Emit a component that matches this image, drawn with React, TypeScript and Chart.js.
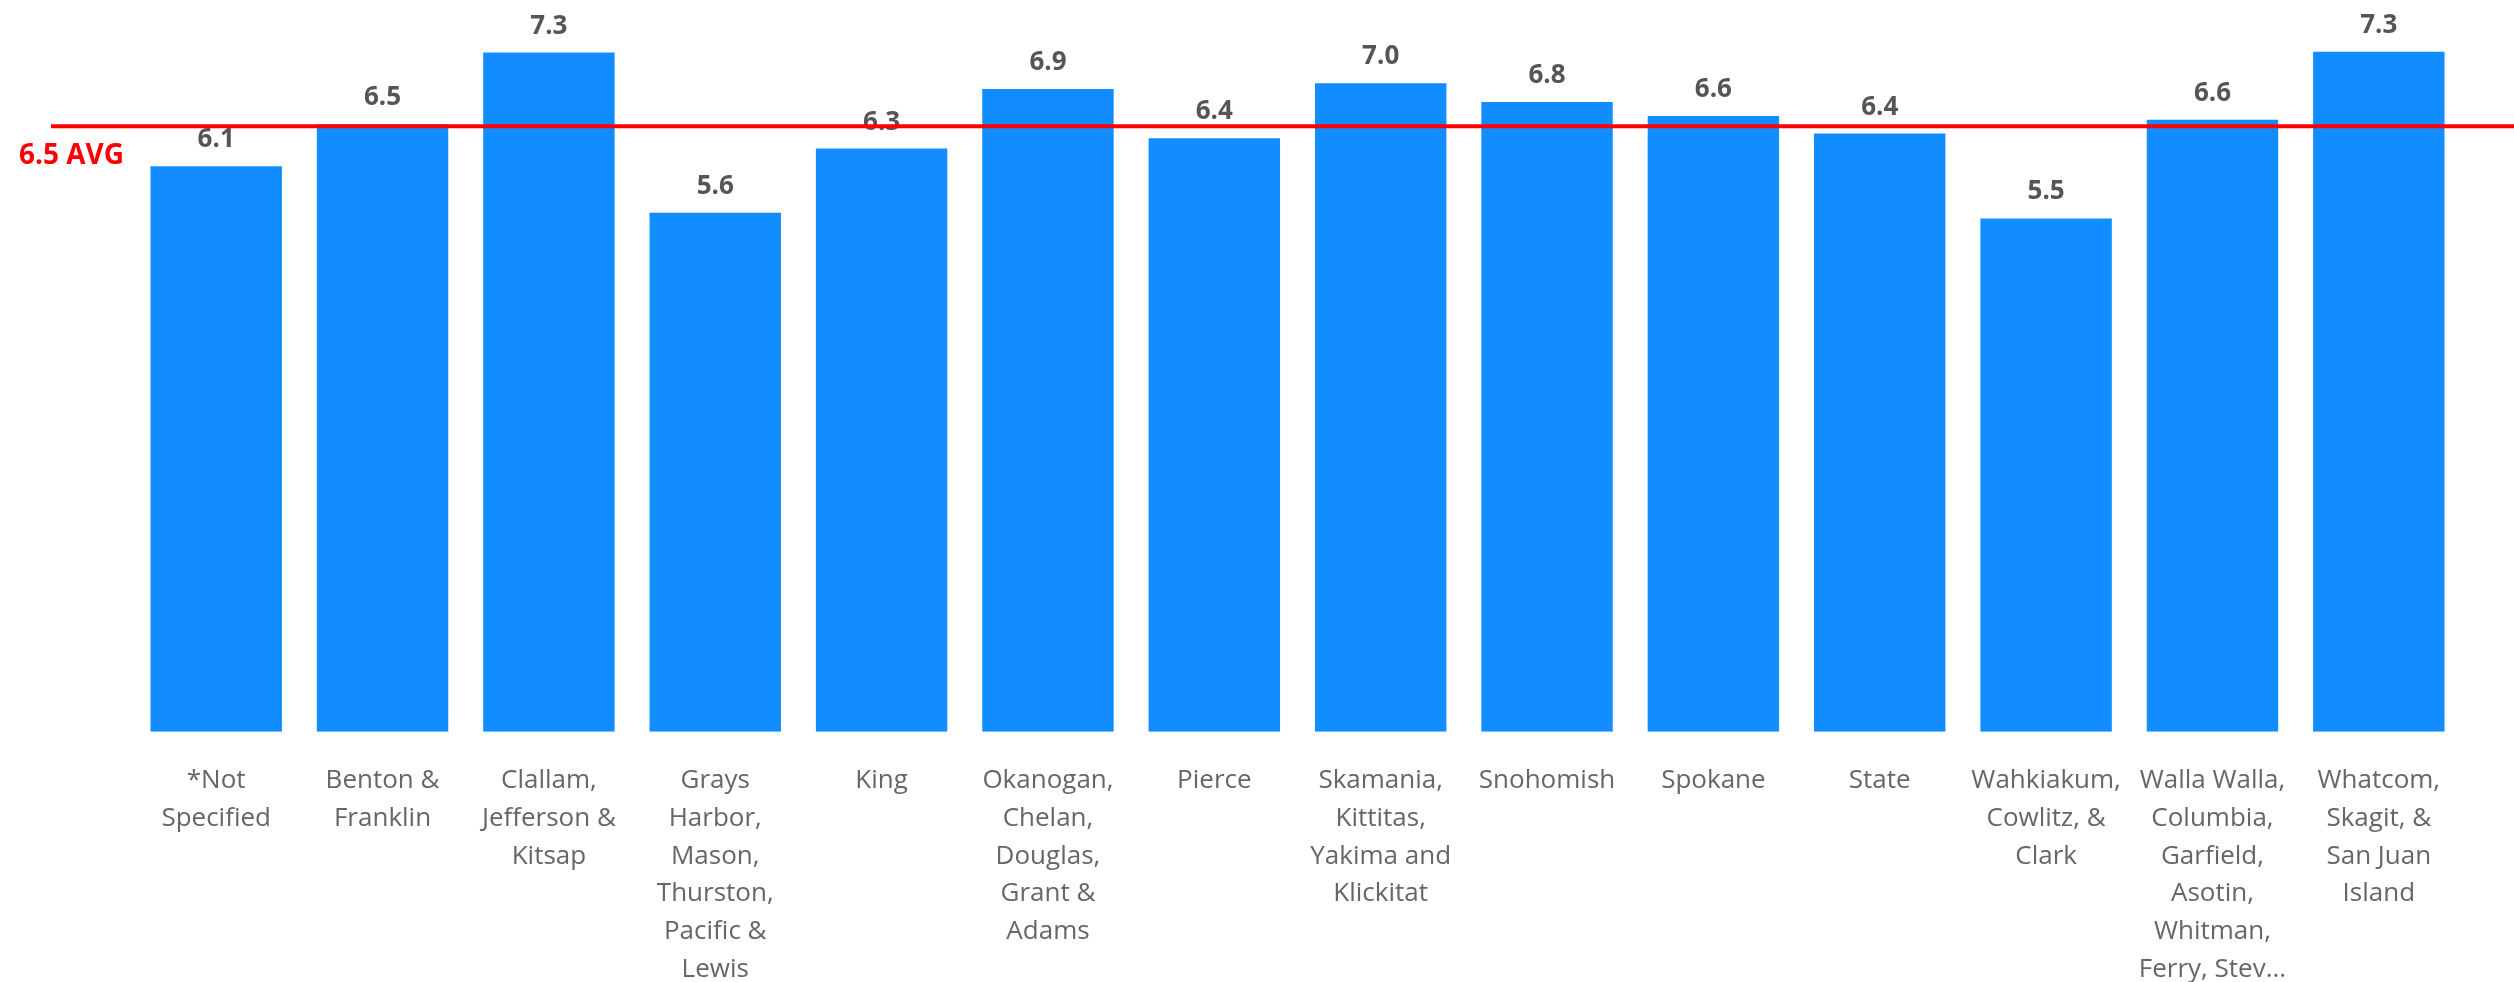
import React, { useEffect, useRef } from "react";
import { Chart, registerables } from "chart.js";

Chart.register(...registerables);

const categories: string[][] = [
  ["*Not", "Specified"],
  ["Benton &", "Franklin"],
  ["Clallam,", "Jefferson &", "Kitsap"],
  ["Grays", "Harbor,", "Mason,", "Thurston,", "Pacific &", "Lewis"],
  ["King"],
  ["Okanogan,", "Chelan,", "Douglas,", "Grant &", "Adams"],
  ["Pierce"],
  ["Skamania,", "Kittitas,", "Yakima and", "Klickitat"],
  ["Snohomish"],
  ["Spokane"],
  ["State"],
  ["Wahkiakum,", "Cowlitz, &", "Clark"],
  ["Walla Walla,", "Columbia,", "Garfield,", "Asotin,", "Whitman,", "Ferry, Stev..."],
  ["Whatcom,", "Skagit, &", "San Juan", "Island"],
];

const values: number[] = [6.07, 6.52, 7.29, 5.57, 6.26, 6.9, 6.37, 6.96, 6.76, 6.61, 6.42, 5.51, 6.57, 7.3];

const AVG = 6.5;
const AVG_LABEL = "6.5 AVG";
const Y_MAX = 7.5;

const BAR_COLOR = "#118DFF";
const LABEL_COLOR = "#555555";
const AXIS_COLOR = "#666666";
const AVG_COLOR = "#FF0000";

const valueLabelPlugin = {
  id: "valueLabels",
  afterDatasetsDraw(chart: any) {
    const ctx = chart.ctx;
    const meta = chart.getDatasetMeta(0);
    ctx.save();
    ctx.font = "bold 26px 'Open Sans'";
    ctx.fillStyle = LABEL_COLOR;
    ctx.textAlign = "center";
    ctx.textBaseline = "alphabetic";
    meta.data.forEach((bar: any, i: number) => {
      ctx.fillText(values[i].toFixed(1), bar.x, bar.y - 19);
    });
    ctx.restore();

    // average line
    const y = chart.scales.y.getPixelForValue(AVG);
    ctx.save();
    ctx.strokeStyle = AVG_COLOR;
    ctx.lineWidth = 4;
    ctx.beginPath();
    ctx.moveTo(51, y);
    ctx.lineTo(chart.width, y);
    ctx.stroke();
    ctx.font = "bold 28px 'Open Sans'";
    ctx.fillStyle = AVG_COLOR;
    ctx.textAlign = "left";
    ctx.textBaseline = "alphabetic";
    ctx.fillText(AVG_LABEL, 19, y + 38);
    ctx.restore();
  },
};

export default function App() {
  const ref = useRef<HTMLCanvasElement>(null);
  useEffect(() => {
    if (!ref.current) return;
    const chart = new Chart(ref.current, {
      type: "bar",
      data: {
        labels: categories as any,
        datasets: [
          {
            data: values,
            backgroundColor: BAR_COLOR,
            barPercentage: 0.79,
            categoryPercentage: 1,
          },
        ],
      },
      options: {
        animation: false,
        responsive: false,
        devicePixelRatio: 1,
        layout: { padding: { left: 133, right: 52, top: 33, bottom: 0 } },
        plugins: { legend: { display: false }, tooltip: { enabled: false } },
        scales: {
          x: {
            grid: { display: false, drawTicks: false },
            border: { display: false },
            ticks: {
              autoSkip: false,
              maxRotation: 0,
              minRotation: 0,
              padding: 30,
              color: AXIS_COLOR,
              font: { family: "'Open Sans'", size: 26, lineHeight: 1.454 },
            },
            afterFit: (s: any) => {
              s.height = 250.3;
            },
          },
          y: { display: false, min: 0, max: Y_MAX },
        },
      },
      plugins: [valueLabelPlugin],
    });
    return () => chart.destroy();
  }, []);
  return (
    <div style={{ position: "absolute", left: 0, top: 0, width: 2514, height: 982, background: "#fff" }}>
      <canvas ref={ref} width={2514} height={982} style={{ display: "block" }} />
    </div>
  );
}
